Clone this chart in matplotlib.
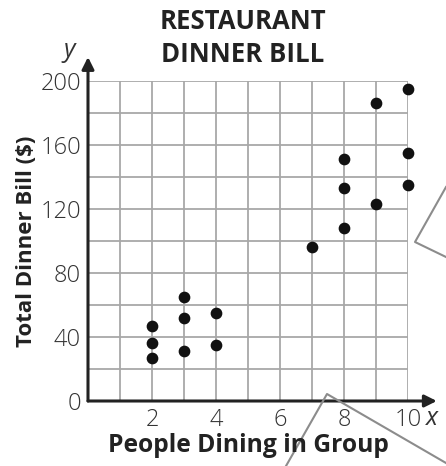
import matplotlib.pyplot as plt
from matplotlib.lines import Line2D

# Data
people = [2, 2, 2, 3, 3, 3, 4, 4, 7, 8, 8, 8, 9, 9, 10, 10, 10]
bill = [47, 36, 27, 65, 52, 31, 55, 35, 96, 151, 133, 108, 186, 123, 195, 155, 135]
x_ticks = [2, 4, 6, 8, 10]
y_ticks = [0, 40, 80, 120, 160, 200]

plt.rcParams['font.family'] = ['Open Sans', 'DejaVu Sans']

fig = plt.figure(figsize=(4.46, 4.66), dpi=100)
ax = fig.add_axes([88 / 446, 65 / 466, 320 / 446, 320 / 466])
ax.set_xlim(0, 10)
ax.set_ylim(0, 200)

# grid
ax.set_xticks(range(0, 11))
ax.set_yticks(range(0, 201, 20))
ax.grid(True, color='#a8a8a8', linewidth=1.3)
ax.set_axisbelow(True)
ax.set_xticklabels([str(v) if v in x_ticks else '' for v in range(0, 11)],
                   fontsize=17, color='#333333', fontweight='light')
ax.set_yticklabels([str(v) if v in y_ticks else '' for v in range(0, 201, 20)],
                   fontsize=17, color='#333333', fontweight='light')
ax.tick_params(length=0, pad=5)
for s in ax.spines.values():
    s.set_visible(False)

# axes with arrows
ax.annotate('', xy=(0, 215), xytext=(0, 0), annotation_clip=False,
            arrowprops=dict(arrowstyle='-|>', color='#222222', lw=2.2,
                            mutation_scale=18, shrinkA=0, shrinkB=0))
ax.annotate('', xy=(10.9, 0), xytext=(0, 0), annotation_clip=False,
            arrowprops=dict(arrowstyle='-|>', color='#222222', lw=2.2,
                            mutation_scale=18, shrinkA=0, shrinkB=0))
ax.text(-0.6, 219, 'y', fontsize=18, style='italic', color='#333333',
        ha='center', va='center')
ax.text(10.75, -11, 'x', fontsize=18, style='italic', color='#333333',
        ha='center', va='center')

ax.scatter(people, bill, s=55, color='#111111', zorder=3, clip_on=False)

fig.text(243 / 446, 1 - 38 / 466, 'RESTAURANT\nDINNER BILL', ha='center', va='center',
         fontsize=18.5, fontweight='bold', color='#222222', linespacing=1.28)
fig.text(248 / 446, 1 - 445 / 466, 'People Dining in Group', ha='center', va='center',
         fontsize=17.7, fontweight='bold', color='#222222')
fig.text(27 / 446, 1 - 241 / 466, 'Total Dinner Bill ($)', ha='center', va='center',
         rotation=90, fontsize=16, fontweight='bold', color='#222222')

# gray callout outlines overlapping the page
for xs, ys in [([446, 415, 446], [187, 242, 257]), ([286, 327, 446], [466, 394, 463])]:
    fig.add_artist(Line2D([v / 446 for v in xs], [1 - v / 466 for v in ys],
                          color='#8c8c8c', lw=1.5))

fig.savefig('out.png', dpi=100)
